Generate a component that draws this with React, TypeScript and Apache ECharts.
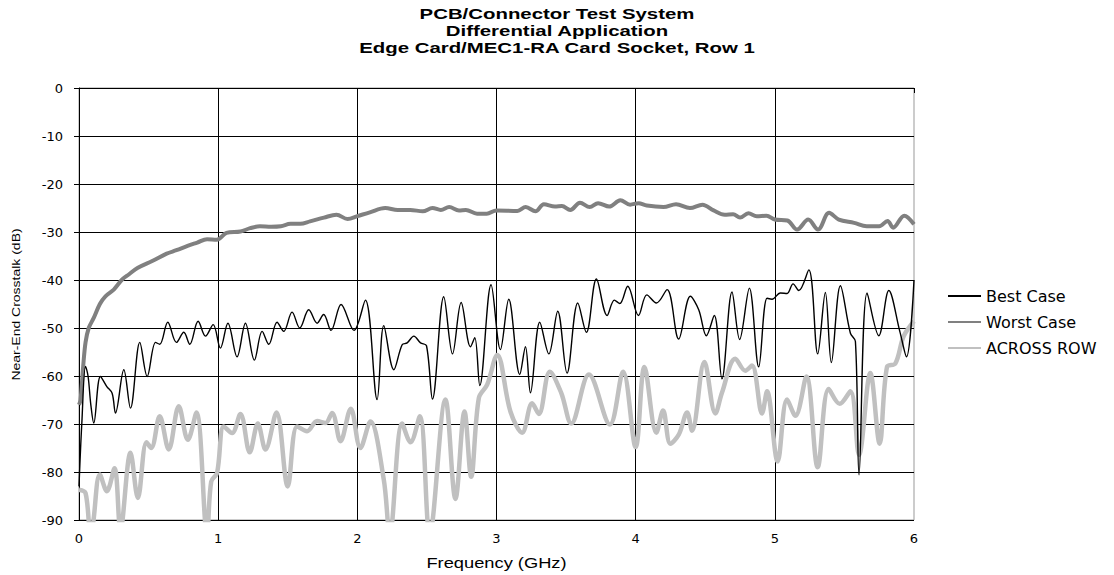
import React, { useEffect, useRef } from "react";
import * as echarts from "echarts";

const titleLines = [
  "PCB/Connector Test System",
  "Differential Application",
  "Edge Card/MEC1-RA Card Socket, Row 1",
];
const xAxisName = "Frequency (GHz)";
const yAxisName = "Near-End Crosstalk (dB)";
const seriesNames = ["Best Case", "Worst Case", "ACROSS ROW"];

const bestCase: [number, number][] = [
  [0, -83], [0.02, -70], [0.047, -58], [0.065, -60], [0.085, -66], [0.106, -69.8],
  [0.154, -60.1], [0.2, -62.2], [0.238, -63.6], [0.262, -67.7], [0.322, -58.7],
  [0.37, -66.7], [0.437, -53], [0.49, -60.1], [0.55, -53], [0.58, -53.4], [0.638, -48.8],
  [0.7, -53], [0.753, -50.9], [0.796, -53.4], [0.856, -48.6], [0.909, -51.7], [0.964, -49.3],
  [1.016, -54.2], [1.07, -49], [1.136, -56], [1.196, -49], [1.26, -56.7], [1.316, -50.7],
  [1.364, -53.4], [1.423, -48.8], [1.471, -50.7], [1.531, -46.7], [1.586, -50], [1.651, -46.2],
  [1.711, -49], [1.758, -47.2], [1.811, -50.5], [1.883, -45.1], [1.976, -50.5], [2.058, -44.2],
  [2.142, -64.9], [2.19, -49.5], [2.262, -58.7], [2.322, -53.5], [2.358, -53.1], [2.406, -51.7],
  [2.454, -53.1], [2.497, -53.7], [2.54, -64.8], [2.621, -43.5], [2.684, -55.4], [2.746, -44.7],
  [2.813, -53.9], [2.844, -52], [2.88, -62], [2.961, -41], [3.028, -54.5], [3.088, -44],
  [3.167, -59.7], [3.208, -53.9], [3.244, -63.5], [3.311, -48.8], [3.376, -55.4], [3.44, -46.5],
  [3.507, -59.4], [3.584, -44.8], [3.646, -50.9], [3.718, -39.8], [3.795, -47.4], [3.847, -44.2],
  [3.886, -44.9], [3.943, -41.3], [4.02, -47.4], [4.08, -43.1], [4.149, -44.8], [4.226, -42],
  [4.309, -52.3], [4.393, -43.4], [4.453, -46.2], [4.508, -51.6], [4.565, -47.4], [4.62, -60.6],
  [4.692, -42.5], [4.747, -52.4], [4.817, -41.7], [4.884, -58.1], [4.944, -43.8], [4.98, -44],
  [5.04, -42.7], [5.088, -42.8], [5.131, -40.8], [5.172, -42.2], [5.244, -37.9], [5.308, -55.4],
  [5.363, -42.6], [5.406, -57.2], [5.471, -41.2], [5.543, -51.1], [5.579, -52.8], [5.605, -80.6],
  [5.663, -42.7], [5.747, -51.6], [5.819, -42.2], [5.898, -50.7], [5.946, -56], [6.0, -40],
];

const worstCase: [number, number][] = [
  [0, -66], [0.011, -65], [0.03, -58], [0.047, -53], [0.07, -50], [0.106, -47.9], [0.15, -45],
  [0.19, -43.4], [0.25, -42], [0.31, -39.9], [0.36, -38.8], [0.42, -37.5], [0.53, -36],
  [0.63, -34.5], [0.7, -33.8], [0.78, -32.9], [0.85, -32.2], [0.92, -31.5], [0.99, -31.6],
  [1.06, -30.2], [1.16, -29.9], [1.23, -29.2], [1.3, -28.8], [1.38, -28.9], [1.45, -28.8],
  [1.52, -28.3], [1.59, -28.3], [1.66, -27.8], [1.76, -27], [1.85, -26.4], [1.93, -27.3],
  [2.0, -26.7], [2.09, -25.9], [2.2, -25], [2.29, -25.4], [2.38, -25.4], [2.47, -25.7],
  [2.54, -25], [2.6, -25.4], [2.66, -24.8], [2.73, -25.5], [2.78, -25.4], [2.86, -26.2],
  [2.93, -26.2], [3.0, -25.5], [3.15, -25.6], [3.21, -24.8], [3.28, -25.7], [3.34, -24.2],
  [3.42, -24.7], [3.47, -24.6], [3.53, -25.4], [3.6, -23.9], [3.67, -24.8], [3.73, -24],
  [3.81, -24.7], [3.89, -23.4], [3.96, -24.3], [4.02, -24], [4.08, -24.5], [4.2, -24.8],
  [4.29, -24.2], [4.39, -25], [4.48, -24.3], [4.56, -25.5], [4.64, -26.4], [4.7, -26.3],
  [4.75, -27], [4.81, -26.1], [4.87, -26.7], [4.94, -26.6], [5.0, -27.4], [5.09, -27.6],
  [5.16, -29.5], [5.24, -27.4], [5.31, -29.5], [5.39, -26], [5.46, -27.4], [5.57, -28.1],
  [5.66, -28.8], [5.75, -28.8], [5.81, -27.7], [5.85, -29.1], [5.93, -26.6], [6.0, -28.4],
];

const acrossRow: [number, number][] = [
  [0, -83.7], [0.047, -84.4], [0.083, -93], [0.1, -91], [0.15, -80.5], [0.2, -84],
  [0.255, -79.2], [0.298, -92], [0.37, -76], [0.423, -85.4], [0.485, -73.8], [0.519, -75],
  [0.58, -68.4], [0.645, -75.3], [0.717, -66.3], [0.782, -73.3], [0.844, -67.6], [0.92, -93],
  [0.95, -82], [0.992, -80.2], [1.04, -70.5], [1.1, -71.9], [1.16, -67.9], [1.227, -75.9],
  [1.285, -69.9], [1.34, -75.3], [1.419, -67.6], [1.5, -83], [1.567, -70.5], [1.639, -71.5],
  [1.711, -69.4], [1.771, -69.8], [1.819, -67.7], [1.879, -73.6], [1.953, -66.8], [2.022, -75],
  [2.094, -69.5], [2.19, -81.6], [2.233, -93], [2.322, -69.9], [2.382, -73.8], [2.449, -68.4],
  [2.52, -93], [2.633, -64.9], [2.705, -85.6], [2.77, -67.4], [2.818, -81], [2.873, -64.6],
  [2.933, -61.8], [3.005, -55.6], [3.1, -67.4], [3.184, -71.8], [3.256, -65.7], [3.304, -67.9],
  [3.383, -59.1], [3.465, -63.5], [3.537, -69.9], [3.664, -59.7], [3.815, -70.1], [3.91, -59.1],
  [4.0, -74.8], [4.063, -58.1], [4.149, -71.8], [4.197, -67.2], [4.25, -74.1], [4.31, -72.2],
  [4.37, -67.6], [4.405, -71.4], [4.494, -57.1], [4.573, -67.8], [4.62, -63.5], [4.716, -56.4],
  [4.788, -58.9], [4.836, -57.8], [4.908, -67.8], [4.944, -63.2], [5.02, -77.8], [5.088, -64.9],
  [5.148, -68.3], [5.227, -60.1], [5.308, -79], [5.387, -62.7], [5.466, -65.8], [5.543, -63.2],
  [5.605, -76.4], [5.686, -59.4], [5.753, -74.1], [5.806, -58.1], [5.866, -57.4], [5.926, -51.7],
  [6.0, -48.6],
];

export default function App() {
  const ref = useRef<HTMLDivElement>(null);
  useEffect(() => {
    document.body.style.margin = "0";
    const chart = echarts.init(ref.current!, null, { renderer: "svg" });
    const tickFont = { fontFamily: "DejaVu Sans", fontSize: 13, color: "#000" };
    chart.setOption({
      animation: false,
      backgroundColor: "#fff",
      grid: {
        left: 79, right: 200, top: 88, bottom: 55,
        show: true, borderColor: "#999", borderWidth: 1,
      },
      legend: {
        orient: "vertical",
        left: 942, top: 283,
        itemWidth: 33, itemHeight: 14, itemGap: 10,
        itemStyle: { opacity: 0, borderWidth: 0 },
        textStyle: { fontFamily: "DejaVu Sans", fontSize: 16, color: "#000" },
        data: seriesNames,
      },
      xAxis: {
        type: "value", min: 0, max: 6, interval: 1,
        axisLine: { lineStyle: { color: "#000", width: 1 } },
        axisTick: { show: true, length: 5, lineStyle: { color: "#000" } },
        axisLabel: { ...tickFont, margin: 12 },
        splitLine: { show: true, showMaxLine: false, lineStyle: { color: "#000", width: 1 } },
      },
      yAxis: {
        type: "value", min: -90, max: 0, interval: 10,
        axisLine: { show: true, lineStyle: { color: "#000", width: 1 } },
        axisTick: { show: true, length: 5, lineStyle: { color: "#000" } },
        axisLabel: { ...tickFont, margin: 16 },
        splitLine: { show: true, showMaxLine: false, lineStyle: { color: "#000", width: 1 } },
      },
      graphic: [
        ...titleLines.map((t, i) => ({
          type: "text", x: 557, y: [13.5, 31, 48][i], scaleX: 1.36,
          style: {
            text: t, fill: "#000", font: "bold 15px 'Liberation Sans', Arial, sans-serif",
            textAlign: "center", textVerticalAlign: "middle",
          },
        })),
        {
          type: "text", x: 496.5, y: 563, scaleX: 1.22,
          style: {
            text: xAxisName, fill: "#000", font: "15px 'Liberation Sans', Arial, sans-serif",
            textAlign: "center", textVerticalAlign: "middle",
          },
        },
        {
          type: "text", x: 16, y: 304.5, rotation: Math.PI / 2, scaleY: 0.8,
          style: {
            text: yAxisName, fill: "#000", font: "14px 'Liberation Sans', Arial, sans-serif",
            textAlign: "center", textVerticalAlign: "middle",
          },
        },
      ],
      series: [
        {
          name: seriesNames[0], type: "line", data: bestCase, showSymbol: false, symbol: "none",
          smooth: 0.35, lineStyle: { color: "#000", width: 1.4 }, itemStyle: { color: "#000" }, z: 4,
        },
        {
          name: seriesNames[1], type: "line", data: worstCase, showSymbol: false, symbol: "none",
          smooth: 0.35, lineStyle: { color: "#808080", width: 4 }, itemStyle: { color: "#808080" }, z: 3,
        },
        {
          name: seriesNames[2], type: "line", data: acrossRow, showSymbol: false, symbol: "none",
          smooth: 0.35, lineStyle: { color: "#c0c0c0", width: 4.5 }, itemStyle: { color: "#c0c0c0" }, z: 2,
        },
      ],
    });
    return () => chart.dispose();
  }, []);
  return (
    <div
      ref={ref}
      style={{ position: "fixed", left: 0, top: 0, width: 1114, height: 575, background: "#fff" }}
    />
  );
}
